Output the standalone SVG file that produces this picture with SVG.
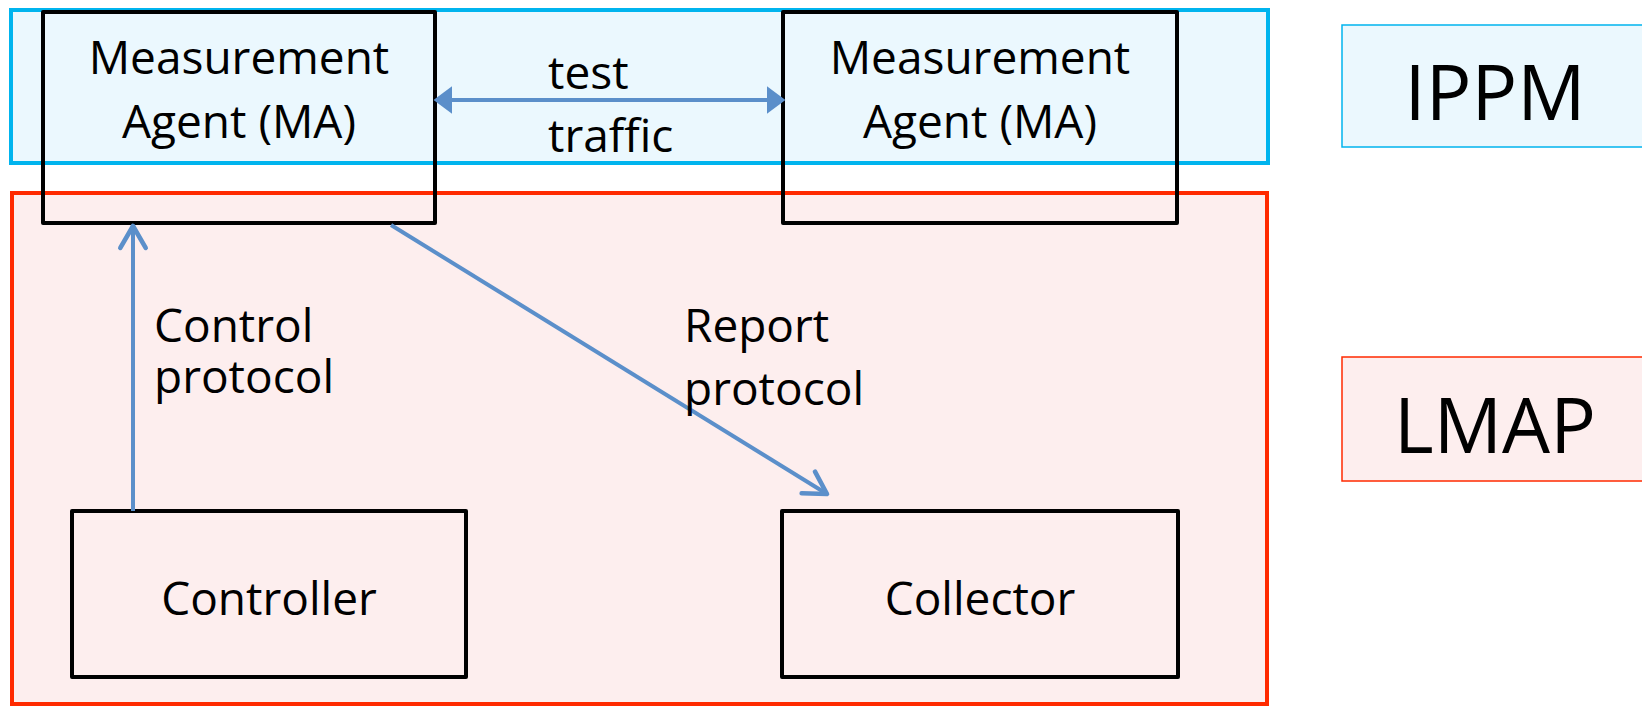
<svg xmlns="http://www.w3.org/2000/svg" width="1642" height="706" viewBox="0 0 1642 706">
<style>
.lbl{font-family:"Open Sans","Liberation Sans",sans-serif;font-size:46px;fill:#000}
.big{font-family:"Open Sans","Liberation Sans",sans-serif;font-size:76px;fill:#000}
.node{fill:none;stroke:#000;stroke-width:4;stroke-linejoin:round}
.conn{fill:none;stroke:#5B8FCA;stroke-width:4}
</style>
<defs>
<marker id="tri" markerUnits="userSpaceOnUse" orient="auto-start-reverse" markerWidth="20" markerHeight="30" refX="0" refY="0" viewBox="0 -13 17 26" overflow="visible">
<path d="M0,-12 L16,0 L0,12 Z" fill="#5B8FCA"/>
</marker>
<marker id="vee" markerUnits="userSpaceOnUse" orient="auto" markerWidth="30" markerHeight="30" refX="0" refY="0" viewBox="-22 -13 24 26" overflow="visible">
<path d="M-19,-11 L0,0 L-19,11" fill="none" stroke="#5B8FCA" stroke-width="4" stroke-linecap="round" stroke-linejoin="round"/>
</marker>
</defs>
<rect width="1642" height="706" fill="#fff"/>
<g id="ippm-region">
<rect x="11" y="10" width="1257" height="153" fill="#EBF8FE" stroke="#00B4EE" stroke-width="4"/>
</g>
<g id="lmap-region">
<rect x="12" y="193" width="1255" height="511" fill="#FDEEEE" stroke="#FF2A00" stroke-width="4"/>
</g>
<g id="ippm-legend">
<rect x="1342" y="25" width="310" height="122" fill="#EBF8FE" stroke="#00B4EE" stroke-width="1.5"/>
<text class="big" x="1495" y="120" text-anchor="middle">IPPM</text>
</g>
<g id="lmap-legend">
<rect x="1342" y="357" width="310" height="124" fill="#FDEEEE" stroke="#FF2A00" stroke-width="1.5"/>
<text class="big" x="1495" y="453" text-anchor="middle">LMAP</text>
</g>
<g id="ma1">
<rect class="node" x="43" y="12" width="392" height="211"/>
<text class="lbl" x="239" y="74" text-anchor="middle">Measurement</text>
<text class="lbl" x="239" y="138" text-anchor="middle">Agent (MA)</text>
</g>
<g id="ma2">
<rect class="node" x="783" y="12" width="394" height="211"/>
<text class="lbl" x="980" y="74" text-anchor="middle">Measurement</text>
<text class="lbl" x="980" y="138" text-anchor="middle">Agent (MA)</text>
</g>
<g id="controller">
<rect class="node" x="72" y="511" width="394" height="166"/>
<text class="lbl" x="269" y="615" text-anchor="middle">Controller</text>
</g>
<g id="collector">
<rect class="node" x="782" y="511" width="396" height="166"/>
<text class="lbl" x="980" y="615" text-anchor="middle">Collector</text>
</g>
<g id="connectors">
<line class="conn" x1="452" y1="100" x2="767" y2="100" marker-start="url(#tri)" marker-end="url(#tri)"/>
<line class="conn" x1="133" y1="511" x2="133" y2="226" marker-end="url(#vee)"/>
<line class="conn" x1="391" y1="225" x2="827" y2="494" marker-end="url(#vee)"/>
</g>
<g id="labels">
<text class="lbl" x="548" y="89">test</text>
<text class="lbl" x="548" y="152">traffic</text>
<text class="lbl" x="154" y="342">Control</text>
<text class="lbl" x="154" y="393">protocol</text>
<text class="lbl" x="684" y="342">Report</text>
<text class="lbl" x="684" y="405">protocol</text>
</g>
</svg>
